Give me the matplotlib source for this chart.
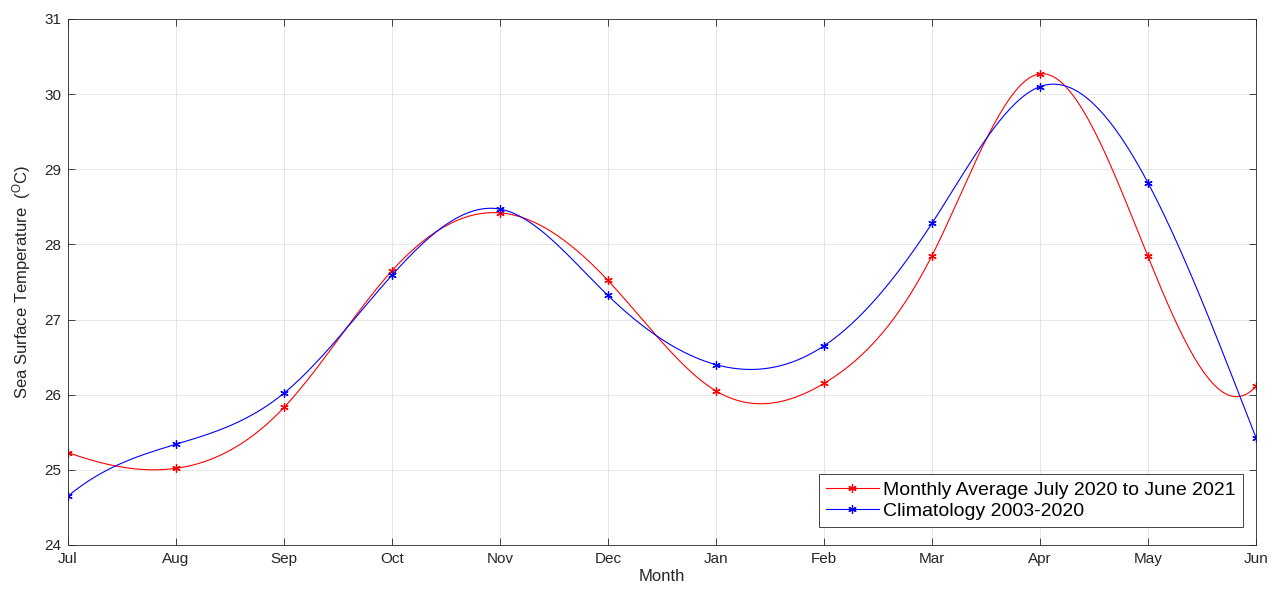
import numpy as np
import matplotlib
matplotlib.use("Agg")
import matplotlib.pyplot as plt

months = ["Jul", "Aug", "Sep", "Oct", "Nov", "Dec", "Jan", "Feb", "Mar", "Apr", "May", "Jun"]
monthly_2020_2021 = [25.23, 25.02, 25.83, 27.65, 28.42, 27.52, 26.05, 26.15, 27.85, 30.27, 27.84, 26.11]
climatology_2003_2020 = [24.65, 25.34, 26.02, 27.59, 28.47, 27.32, 26.40, 26.65, 28.28, 30.10, 28.82, 25.43]
label_monthly = "Monthly Average July 2020 to June 2021"
label_clim = "Climatology 2003-2020"
y_ticks = [24, 25, 26, 27, 28, 29, 30, 31]

plt.rcParams['font.family'] = ['Liberation Sans', 'DejaVu Sans']
plt.rcParams['mathtext.fontset'] = 'custom'
plt.rcParams['mathtext.rm'] = 'Liberation Sans'
plt.rcParams['mathtext.it'] = 'Liberation Sans'


def spline_curve(x, y, n_per=40):
    """MATLAB-style not-a-knot cubic spline drawn through the data points."""
    x = np.asarray(x, float)
    y = np.asarray(y, float)
    n = len(x)
    h = np.diff(x)
    A = np.zeros((n, n))
    b = np.zeros(n)
    A[0, 0] = h[1]
    A[0, 1] = -(h[0] + h[1])
    A[0, 2] = h[0]
    A[-1, -3] = h[-1]
    A[-1, -2] = -(h[-2] + h[-1])
    A[-1, -1] = h[-2]
    for i in range(1, n - 1):
        A[i, i - 1] = h[i - 1]
        A[i, i] = 2 * (h[i - 1] + h[i])
        A[i, i + 1] = h[i]
        b[i] = 6 * ((y[i + 1] - y[i]) / h[i] - (y[i] - y[i - 1]) / h[i - 1])
    M = np.linalg.solve(A, b)
    xs_all, ys_all = [], []
    for i in range(n - 1):
        t = np.linspace(x[i], x[i + 1], n_per, endpoint=(i == n - 2))
        a = x[i + 1] - t
        c = t - x[i]
        s = (M[i] * a ** 3 / (6 * h[i]) + M[i + 1] * c ** 3 / (6 * h[i])
             + (y[i] / h[i] - M[i] * h[i] / 6) * a
             + (y[i + 1] / h[i] - M[i + 1] * h[i] / 6) * c)
        xs_all.append(t)
        ys_all.append(s)
    return np.concatenate(xs_all), np.concatenate(ys_all)


fig = plt.figure(figsize=(12.73, 5.93), dpi=100)
ax = fig.add_axes([0.0534, 0.081, 0.9332, 0.887])

asterisk = (6, 2, 0)
xpos = np.arange(len(months))
for vals, col, lab in [(monthly_2020_2021, 'red', label_monthly),
                       (climatology_2003_2020, 'blue', label_clim)]:
    sx, sy = spline_curve(xpos, vals)
    ax.plot(sx, sy, color=col, lw=0.8)
    ax.plot(xpos, vals, linestyle='none', marker=asterisk, color=col, ms=6, mew=0.9)
    ax.plot([], [], color=col, lw=0.8, marker=asterisk, ms=6, mew=0.9, label=lab)

ax.set_xlim(0, len(months) - 1)
ax.set_ylim(24, 31)
ax.set_xticks(xpos)
ax.set_xticklabels(months)
ax.set_yticks(y_ticks)
ax.tick_params(direction='in', top=True, right=True, length=5, width=0.6,
               labelsize=11, colors='#262626', pad=5)
ax.grid(True, color='#e3e3e3', lw=0.6)
ax.set_axisbelow(True)
for sp in ax.spines.values():
    sp.set_color('#262626')
    sp.set_linewidth(0.6)

ax.set_xlabel("Month", fontsize=12, color='#262626', labelpad=2)
ax.set_ylabel(r"Sea Surface Temperature  ($^{\mathrm{O}}$C)", fontsize=12,
              color='#262626', labelpad=8)

leg = ax.legend(loc='lower right', bbox_to_anchor=(0.989, 0.034), fontsize=14,
                frameon=True, fancybox=False, edgecolor='#262626', framealpha=1,
                handlelength=2.7, borderaxespad=0.0, borderpad=0.35,
                labelspacing=0.2, handletextpad=0.25)
leg.get_frame().set_linewidth(0.6)

fig.savefig("out.png", dpi=100)
